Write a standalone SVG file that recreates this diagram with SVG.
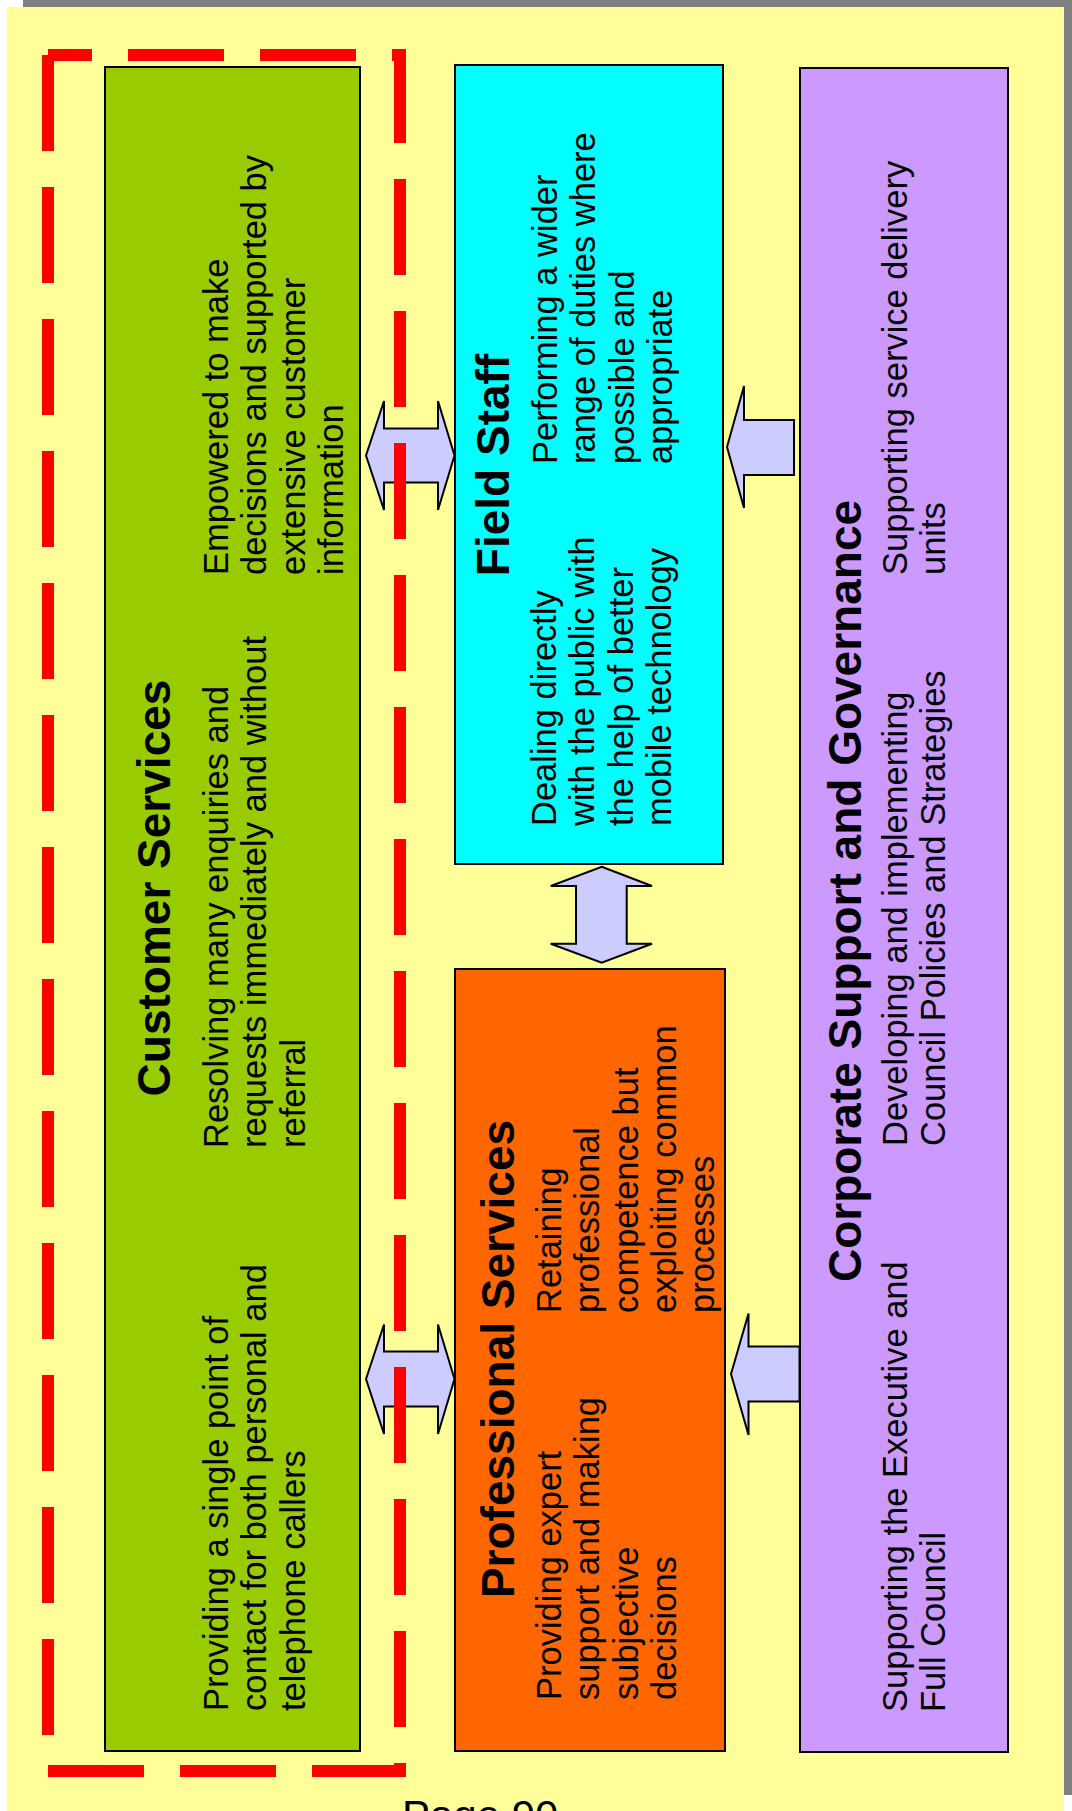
<svg xmlns="http://www.w3.org/2000/svg" width="1072" height="1811" viewBox="0 0 1072 1811">
  <style>
    .box { stroke: #000000; stroke-width: 2; }
    .arrow { fill: #CCCCFF; stroke: #000000; stroke-width: 2; stroke-linejoin: miter; }
    .title { font-family: "Liberation Sans", Arial, sans-serif; font-weight: bold; font-size: 46px; fill: #000000; text-anchor: middle; }
    .body { font-family: "Liberation Sans", Arial, sans-serif; font-size: 34.5px; fill: #000000; }
    .page { font-family: "Liberation Sans", Arial, sans-serif; font-size: 42px; fill: #000000; }
  </style>

  <!-- page with drop shadow -->
  <rect x="0" y="0" width="1072" height="1811" fill="#FFFFFF"/>
  <rect x="23" y="0" width="1049" height="1795" fill="#808080"/>
  <rect x="7" y="7" width="1057" height="1804" fill="#FFFF99"/>

  <!-- Customer Services -->
  <g id="customer-services">
    <rect class="box" x="105" y="67" width="255" height="1684" fill="#99CC00"/>
    <text class="title" transform="translate(170,888) rotate(-90)">Customer Services</text>
    <text class="body" transform="translate(228,1711) rotate(-90)">
      <tspan x="0" y="0">Providing a single point of</tspan>
      <tspan x="0" dy="38.4">contact for both personal and</tspan>
      <tspan x="0" dy="38.4">telephone callers</tspan>
    </text>
    <text class="body" transform="translate(228,1148) rotate(-90)">
      <tspan x="0" y="0">Resolving many enquiries and</tspan>
      <tspan x="0" dy="38.4">requests immediately and without</tspan>
      <tspan x="0" dy="38.4">referral</tspan>
    </text>
    <text class="body" transform="translate(228,575) rotate(-90)">
      <tspan x="0" y="0">Empowered to make</tspan>
      <tspan x="0" dy="38.4">decisions and supported by</tspan>
      <tspan x="0" dy="38.4">extensive customer</tspan>
      <tspan x="0" dy="38.4">information</tspan>
    </text>
  </g>

  <!-- Field Staff -->
  <g id="field-staff">
    <rect class="box" x="455" y="65" width="268" height="799" fill="#00FFFF"/>
    <text class="title" transform="translate(509,465) rotate(-90)">Field Staff</text>
    <text class="body" transform="translate(555.5,826) rotate(-90)">
      <tspan x="0" y="0">Dealing directly</tspan>
      <tspan x="0" dy="38.5">with the public with</tspan>
      <tspan x="0" dy="38.5">the help of better</tspan>
      <tspan x="0" dy="38.5">mobile technology</tspan>
    </text>
    <text class="body" transform="translate(556.5,464) rotate(-90)">
      <tspan x="0" y="0">Performing a wider</tspan>
      <tspan x="0" dy="38.5">range of duties where</tspan>
      <tspan x="0" dy="38.5">possible and</tspan>
      <tspan x="0" dy="38.5">appropriate</tspan>
    </text>
  </g>

  <!-- Professional Services -->
  <g id="professional-services">
    <rect class="box" x="455" y="969" width="270" height="782" fill="#FF6600"/>
    <text class="title" transform="translate(514,1359) rotate(-90)">Professional Services</text>
    <text class="body" transform="translate(561,1700) rotate(-90)">
      <tspan x="0" y="0">Providing expert</tspan>
      <tspan x="0" dy="38.3">support and making</tspan>
      <tspan x="0" dy="38.3">subjective</tspan>
      <tspan x="0" dy="38.3">decisions</tspan>
    </text>
    <text class="body" transform="translate(561,1313) rotate(-90)">
      <tspan x="0" y="0">Retaining</tspan>
      <tspan x="0" dy="38.3">professional</tspan>
      <tspan x="0" dy="38.3">competence but</tspan>
      <tspan x="0" dy="38.3">exploiting common</tspan>
      <tspan x="0" dy="38.3">processes</tspan>
    </text>
  </g>

  <!-- Corporate Support and Governance -->
  <g id="corporate-support">
    <rect class="box" x="800" y="68" width="208" height="1684" fill="#CC99FF"/>
    <text class="title" transform="translate(860.5,891) rotate(-90)">Corporate Support and Governance</text>
    <text class="body" transform="translate(906.5,1712) rotate(-90)">
      <tspan x="0" y="0">Supporting the Executive and</tspan>
      <tspan x="0" dy="38.4">Full Council</tspan>
    </text>
    <text class="body" transform="translate(906.5,1146) rotate(-90)">
      <tspan x="0" y="0">Developing and implementing</tspan>
      <tspan x="0" dy="38.4">Council Policies and Strategies</tspan>
    </text>
    <text class="body" transform="translate(906.5,575) rotate(-90)">
      <tspan x="0" y="0">Supporting service delivery</tspan>
      <tspan x="0" dy="38.4">units</tspan>
    </text>
  </g>

  <!-- block arrows between the service areas -->
  <g id="connectors">
    <polygon class="arrow" points="366,455.5 384,401 384,428.5 438,428.5 438,401 454.5,455.5 438,510 438,482.5 384,482.5 384,510"/>
    <polygon class="arrow" points="727,447 744,386 744,420 794,420 794,475 744,475 744,508"/>
    <polygon class="arrow" points="366,1379 384,1324.5 384,1351.5 438,1351.5 438,1324.5 454.5,1379 438,1434 438,1406.5 384,1406.5 384,1434"/>
    <polygon class="arrow" points="731,1374 748.5,1313.5 748.5,1346.5 799.5,1346.5 799.5,1401.5 748.5,1401.5 748.5,1435"/>
    <polygon class="arrow" points="601.7,866.7 652,886 626.7,886 626.7,943.7 652,943.7 601.7,962.7 550.7,943.7 576,943.7 576,886 550.7,886"/>
  </g>

  <!-- dashed boundary round the customer-facing area -->
  <path d="M48,55 H400 V1771 H48 V55" fill="none" stroke="#FF0000" stroke-width="12" stroke-dasharray="96 36" stroke-dashoffset="52" stroke-linejoin="miter" stroke-linecap="butt"/>

  <text class="page" x="402" y="1830">Page 90</text>
</svg>
